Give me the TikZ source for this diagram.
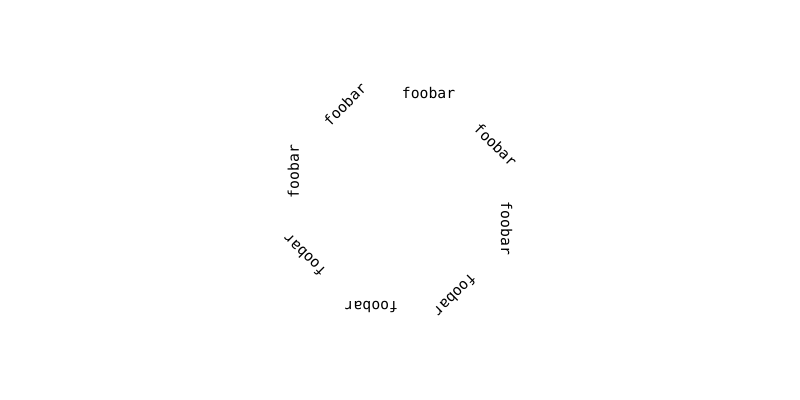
\documentclass[tikz,border=0pt]{standalone}
\usepackage{fontspec}
\setmonofont{DejaVu Sans Mono}
\tikzset{
  ring-label/.style={
    font=\ttfamily\fontsize{10.5}{12}\selectfont,
    inner sep=0pt
  }
}

\begin{document}
\begin{tikzpicture}
  \useasboundingbox (-10,-5) rectangle (10,5);
  % Labels round a ring
  \foreach \ang [count=\i] in {75,30,...,-240} {
    \node[ring-label, rotate=\ang-75] (label-\i) at (\ang:2.76) {foobar};
  }
\end{tikzpicture}
\end{document}
